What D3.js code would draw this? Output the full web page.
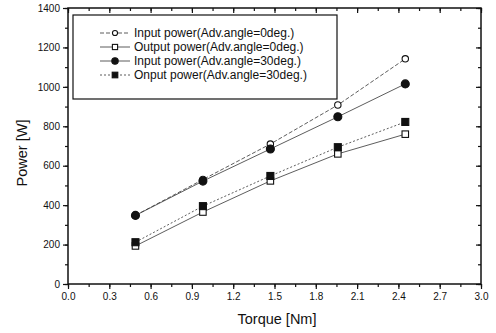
<!DOCTYPE html>
<html>
<head>
<meta charset="utf-8">
<script src="https://cdn.jsdelivr.net/npm/d3@7"></script>
<style>
  body { margin: 0; background: #fff; }
  svg text { font-family: "Liberation Sans", Arial, sans-serif; fill: #111; }
</style>
</head>
<body>
<div id="chart"></div>
<script>
// torque values (Nm)
var torque = [0.49, 0.98, 1.47, 1.96, 2.45];

// power values (W)
var inputPower0 = [348, 530, 710, 908, 1142];
var outputPower0 = [193, 365, 523, 660, 760];
var inputPower30 = [348, 522, 685, 848, 1015];
var outputPower30 = [212, 395, 548, 694, 822];

var seriesNames = [
  "Input power(Adv.angle=0deg.)",
  "Output power(Adv.angle=0deg.)",
  "Input power(Adv.angle=30deg.)",
  "Onput power(Adv.angle=30deg.)"
];

var xTicks = [0.0, 0.3, 0.6, 0.9, 1.2, 1.5, 1.8, 2.1, 2.4, 2.7, 3.0];
var yTicks = [0, 200, 400, 600, 800, 1000, 1200, 1400];

var width = 496, height = 333;
var margin = { top: 8, right: 15, bottom: 49, left: 68 };

var svg = d3.select("#chart").append("svg")
  .attr("width", width)
  .attr("height", height);

var x = d3.scaleLinear().domain([0, 3]).range([margin.left, width - margin.right]);
var y = d3.scaleLinear().domain([0, 1400]).range([height - margin.bottom, margin.top]);

var series = [
  { name: seriesNames[0], values: inputPower0, shape: "circle", filled: false, dash: "4,2" },
  { name: seriesNames[1], values: outputPower0, shape: "square", filled: false, dash: null },
  { name: seriesNames[2], values: inputPower30, shape: "circle", filled: true, dash: null },
  { name: seriesNames[3], values: outputPower30, shape: "square", filled: true, dash: "2,2" }
];

// axes
var fmtX = d3.format(".1f");
var fmtY = d3.format("d");
var minorX = d3.range(0, 3.001, 0.15);
var minorY = d3.range(0, 1401, 100);

function axisStyle(g) {
  g.select(".domain").remove();
  g.selectAll("line").attr("stroke", "#111").attr("stroke-width", 1.2);
  g.selectAll("text").attr("font-size", 10);
}

// bottom
svg.append("g")
  .attr("transform", "translate(0," + y(0) + ")")
  .call(d3.axisBottom(x).tickValues(minorX).tickSize(3).tickFormat(""))
  .call(axisStyle);
svg.append("g")
  .attr("transform", "translate(0," + y(0) + ")")
  .call(d3.axisBottom(x).tickValues(xTicks).tickSize(5).tickPadding(4).tickFormat(fmtX))
  .call(axisStyle);

// top (inward)
svg.append("g")
  .attr("transform", "translate(0," + y(1400) + ")")
  .call(d3.axisBottom(x).tickValues(minorX).tickSize(3).tickFormat(""))
  .call(axisStyle);
svg.append("g")
  .attr("transform", "translate(0," + y(1400) + ")")
  .call(d3.axisBottom(x).tickValues(xTicks).tickSize(5).tickFormat(""))
  .call(axisStyle);

// left
svg.append("g")
  .attr("transform", "translate(" + x(0) + ",0)")
  .call(d3.axisLeft(y).tickValues(minorY).tickSize(3).tickFormat(""))
  .call(axisStyle);
svg.append("g")
  .attr("transform", "translate(" + x(0) + ",0)")
  .call(d3.axisLeft(y).tickValues(yTicks).tickSize(5).tickPadding(3).tickFormat(fmtY))
  .call(axisStyle);

// right (inward)
svg.append("g")
  .attr("transform", "translate(" + x(3) + ",0)")
  .call(d3.axisLeft(y).tickValues(minorY).tickSize(3).tickFormat(""))
  .call(axisStyle);
svg.append("g")
  .attr("transform", "translate(" + x(3) + ",0)")
  .call(d3.axisLeft(y).tickValues(yTicks).tickSize(5).tickFormat(""))
  .call(axisStyle);

// frame
svg.append("rect")
  .attr("x", x(0)).attr("y", y(1400))
  .attr("width", x(3) - x(0)).attr("height", y(0) - y(1400))
  .attr("fill", "none").attr("stroke", "#111").attr("stroke-width", 1.5);

// axis titles
svg.append("text")
  .attr("x", 277).attr("y", 324)
  .attr("text-anchor", "middle").attr("font-size", 14.5)
  .text("Torque [Nm]");
svg.append("text")
  .attr("transform", "translate(27,153) rotate(-90)")
  .attr("text-anchor", "middle").attr("font-size", 14.5)
  .text("Power [W]");

// lines
var line = d3.line()
  .x(function(d, i) { return x(torque[i]); })
  .y(function(d) { return y(d); });

function drawMarker(g, shape, filled, cx, cy, k) {
  if (shape === "circle") {
    g.append("circle").attr("cx", cx).attr("cy", cy).attr("r", (filled ? 4 : 3.2) * k)
      .attr("fill", filled ? "#111" : "#fff").attr("stroke", "#111").attr("stroke-width", 1.1);
  } else {
    var s = (filled ? 7 : 6.5) * k;
    g.append("rect").attr("x", cx - s / 2).attr("y", cy - s / 2).attr("width", s).attr("height", s)
      .attr("fill", filled ? "#111" : "#fff").attr("stroke", "#111").attr("stroke-width", 1.1);
  }
}

series.forEach(function(s) {
  svg.append("path")
    .datum(s.values)
    .attr("fill", "none")
    .attr("stroke", "#333")
    .attr("stroke-width", 0.8)
    .attr("stroke-dasharray", s.dash)
    .attr("d", line);
});
series.forEach(function(s) {
  var g = svg.append("g");
  s.values.forEach(function(v, i) {
    drawMarker(g, s.shape, s.filled, x(torque[i]), y(v), 1);
  });
});

// legend
var legend = svg.append("g");
legend.append("rect")
  .attr("x", 73).attr("y", 15).attr("width", 264).attr("height", 84)
  .attr("fill", "#fff").attr("stroke", "#111").attr("stroke-width", 1.2);
series.forEach(function(s, i) {
  var ly = 33 + i * 14;
  legend.append("line")
    .attr("x1", 100).attr("x2", 130).attr("y1", ly).attr("y2", ly)
    .attr("stroke", "#333").attr("stroke-width", 0.8)
    .attr("stroke-dasharray", s.dash);
  drawMarker(legend, s.shape, s.filled, 115, ly, 0.8);
  legend.append("text")
    .attr("x", 134).attr("y", ly + 4)
    .attr("font-size", 12)
    .text(s.name);
});
</script>
</body>
</html>
